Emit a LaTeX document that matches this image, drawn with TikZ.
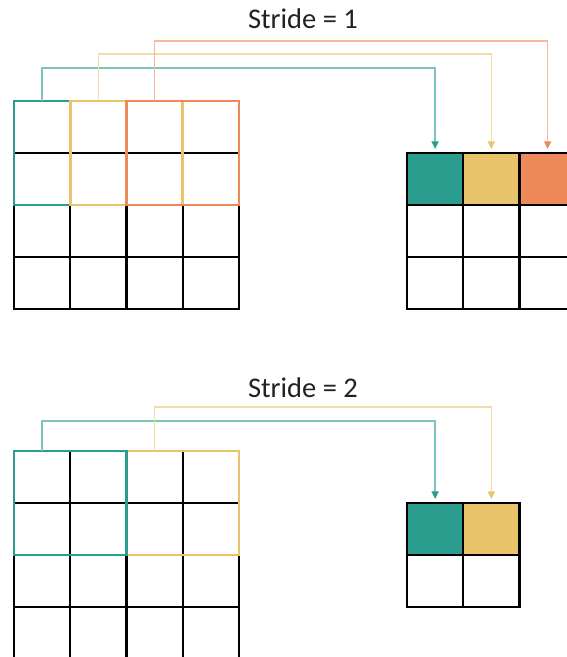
\documentclass[tikz,border=0pt]{standalone}
\usepackage{fontspec}
\setsansfont{Carlito}
\usetikzlibrary{arrows.meta, positioning}
\definecolor{KernTeal}{HTML}{2A9D8F}
\definecolor{KernGold}{HTML}{E9C46A}
\definecolor{KernCoral}{HTML}{EE8959}
\definecolor{LabelInk}{HTML}{222222}

\begin{document}
\begin{tikzpicture}[
    x=1pt, y=1pt,
    font=\sffamily,
    cell/.style={
      draw=black,
      line width=2.4pt,
      minimum width=56.25pt,
      minimum height=52pt,
      inner sep=0pt,
      outer sep=0pt,
    },
    win/.style={
      draw=#1,
      line width=2.8pt,
    },
    feed/.style={
      draw=#1!60,
      line width=1.4pt,
      -{Triangle[length=7.5pt,width=7pt,color=#1]},
      shorten >=4pt,
    },
    title/.style={
      font=\sffamily\fontsize{28.5}{32}\selectfont,
      text=LabelInk,
      anchor=base,
    },
  ]
    \useasboundingbox (0,0) rectangle (567,657);
    \clip (0,0) rectangle (567,657);

    % stride 1: input grid and output
    \foreach \r in {1,...,4}
      \foreach \c in {1,...,4}
        \node[cell] (a-\r-\c) at ({14+56.25*(\c-0.5)}, {556-52*(\r-0.5)}) {};
    \foreach \c/\f in {1/KernTeal,2/KernGold,3/KernCoral} {
      \node[cell, fill=\f] (b-1-\c) at ({407+56.25*(\c-0.5)}, 478) {};
      \foreach \r in {2,3}
        \node[cell] (b-\r-\c) at ({407+56.25*(\c-0.5)}, {504-52*(\r-0.5)}) {};
    }
    \node[title] (s1) at (303,628) {Stride = 1};

    \draw[win=KernTeal] (a-1-1.north west) rectangle (a-2-2.south east);
    \draw[win=KernGold] (a-1-2.north west) rectangle (a-2-3.south east);
    \draw[win=KernCoral] (a-1-3.north west) rectangle (a-2-4.south east);

    \draw[feed=KernTeal] (a-1-1.north) -- ++(0,33) -| (b-1-1.north);
    \draw[feed=KernGold] (a-1-2.north) -- ++(0,47) -| (b-1-2.north);
    \draw[feed=KernCoral] (a-1-3.north) -- ++(0,60) -| (b-1-3.north);

    % stride 2: input grid and output
    \foreach \r in {1,...,4}
      \foreach \c in {1,...,4}
        \node[cell] (c-\r-\c) at ({14+56.25*(\c-0.5)}, {206-52*(\r-0.5)}) {};
    \foreach \c/\f in {1/KernTeal,2/KernGold} {
      \node[cell, fill=\f] (d-1-\c) at ({407+56.25*(\c-0.5)}, 128) {};
      \node[cell] (d-2-\c) at ({407+56.25*(\c-0.5)}, 76) {};
    }
    \node[title] (s2) at (303,259) {Stride = 2};

    \draw[win=KernGold] (c-1-3.north west) rectangle (c-2-4.south east);
    \draw[win=KernTeal] (c-1-1.north west) rectangle (c-2-2.south east);

    \draw[feed=KernTeal] (c-1-1.north) -- ++(0,30) -| (d-1-1.north);
    \draw[feed=KernGold] (c-1-3.north) -- ++(0,44) -| (d-1-2.north);
  \end{tikzpicture}
\end{document}
